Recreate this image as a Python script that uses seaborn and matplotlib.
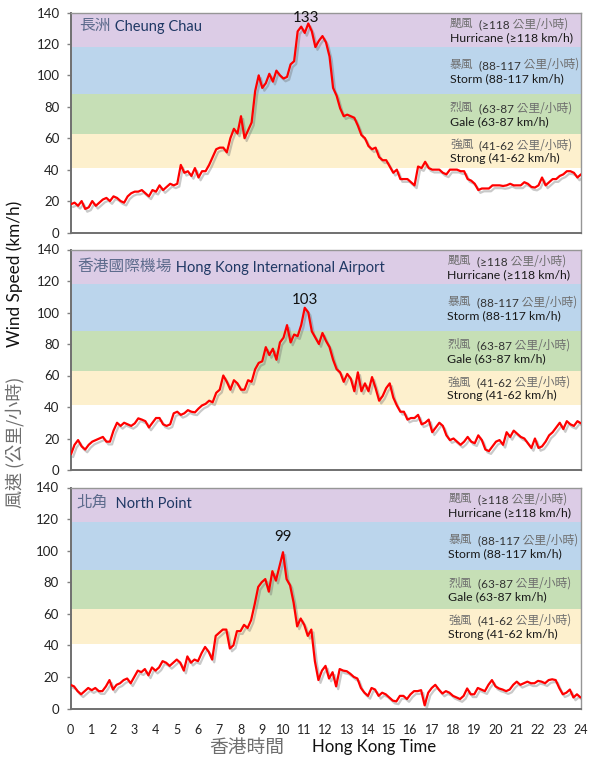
import numpy as np
import pandas as pd
import matplotlib
matplotlib.use('Agg')
import matplotlib.pyplot as plt
import matplotlib.patheffects as pe
import seaborn as sns

# 10 minute readings, 00:00 to 24:00
hours = np.arange(145) / 6

cheung_chau = [18, 19, 17, 20, 15, 16, 20, 17, 19, 21, 22, 20, 23, 22, 20, 19, 23, 25, 26, 26, 27, 25, 23, 27, 26,
               30, 27, 29, 31, 30, 31, 43, 38, 39, 36, 41, 35, 39, 39, 43, 48, 53, 54, 54, 51, 60, 66, 63, 74, 60,
               65, 70, 90, 100, 92, 95, 101, 96, 103, 100, 98, 99, 107, 109, 128, 131, 127, 133, 128, 118, 122, 125,
               121, 112, 92, 87, 79, 74, 75, 74, 73, 68, 62, 60, 55, 53, 54, 48, 46, 46, 42, 38, 40, 34, 34, 34, 32,
               30, 42, 41, 45, 41, 40, 40, 40, 38, 37, 40, 40, 40, 39, 39, 34, 33, 31, 27, 28, 28, 28, 30, 30, 30,
               29.6, 30, 31, 30, 30, 30, 32, 31, 29, 28.6, 30, 35, 30, 32, 34, 34, 36, 37, 39, 39, 38, 35, 37]
airport = [10, 16, 19, 15, 13, 16, 18, 19, 20, 21, 18, 18, 25, 30, 28, 30, 29, 28, 29.6, 32.8, 32, 31, 27, 30, 33,
           33, 29, 28, 29, 36, 37, 35, 36, 38, 37, 36.6, 39, 41, 42, 44, 43, 49, 51, 60, 56, 51, 57, 55, 51, 51,
           57, 56, 64, 68, 69, 78, 73, 77, 70, 81, 84, 92, 81, 86, 85, 92, 103, 100, 88, 84, 80, 87,
           82, 78, 70, 64, 62, 56, 61, 58, 50, 62, 50, 55, 50, 59, 52, 44, 47, 52, 55, 46, 41, 37, 37, 32, 33,
           33, 35, 29, 30, 32, 24, 27, 30, 28, 22, 19, 20, 18, 16, 18, 21, 18, 17, 22, 19, 13, 12, 15, 18, 19,
           16, 24, 21, 25, 23, 21, 20, 17, 14, 20, 14, 15, 18, 22, 24, 27, 30, 26, 31, 29, 28, 31, 29.6]
north_point = [15, 14, 11, 9, 11, 13, 11.6, 13, 11, 11, 14, 18, 12, 15, 16, 18, 19, 16, 20, 24, 23, 25, 21, 26, 24,
               26, 30, 29, 27, 29, 31, 29, 24, 33, 29, 31, 30, 35, 39, 36, 31, 46, 48, 50, 50, 38, 40, 49, 49, 53,
               51, 56, 66, 77, 80, 82, 74, 87, 81, 90, 99, 82, 78, 67, 52, 57, 53, 46, 50, 30, 18, 24,
               27, 19, 23, 14, 25, 24, 23.6, 22, 20, 19, 13, 10, 8, 13, 12, 8, 10, 9, 7, 5, 4.5, 8, 8, 6, 9,
               11, 11, 11.6, 2, 10, 13, 15, 12, 9.5, 11, 10, 8, 7, 6, 8, 12.7, 9, 9, 13, 12, 11, 15, 18, 14, 12.7,
               12, 11, 12, 15, 17, 15, 16, 17, 16, 16, 17.5, 17, 16, 18, 18.5, 18, 13, 9, 10, 12, 7, 9, 7]

stations = ['長洲', '香港國際機場', '北角']
stations_en = ['Cheung Chau', 'Hong Kong International Airport', 'North Point']
peaks = [133, 103, 99]
peak_hours = [11.08, 11.0, 10.0]

band_edges = [(118, 140), (88, 118), (63, 88), (41, 63)]
band_colors = ['#dccce6', '#bbd5ec', '#c6dfb6', '#fdf0cd']
band_zh = ['颶風', '暴風', '烈風', '強風']
band_range = ['≥118', '88-117', '63-87', '41-62']
band_en = ['Hurricane', 'Storm', 'Gale', 'Strong']

sns.set_theme(style='white')
CJK = ['Noto Sans CJK TC', 'DejaVu Sans']
LATIN = ['Lato', 'Noto Sans CJK TC', 'DejaVu Sans']
GREY = '#6e6e6e'
NAVY = '#1f3864'
plt.rcParams['font.family'] = LATIN

W, H = 604, 770
fig = plt.figure(figsize=(W / 100, H / 100), dpi=100)
boxes = [(71, 12.5, 581, 232.5), (71, 249.5, 581, 470), (70.5, 487.5, 580.5, 708.5)]
title_x = [0.017, 0.013, 0.012]
title_y = [0.939, 0.925, 0.934]
title_gap = [' ', ' ', '  ']
peak_y = [136.5, 108, 108.6]
label_x = [0.743, 0.738, 0.741]


def chain(ax, x, y, pieces):
    # consecutive bits of text, each starts where the last one ended
    prev = None
    for txt, col, fam, size in pieces:
        if prev is None:
            prev = ax.text(x, y, txt, color=col, family=fam, fontsize=size, va='center', ha='left',
                           transform=ax.transAxes)
        else:
            prev = ax.annotate(txt, xy=(1, 0), xycoords=prev, va='bottom', ha='left', color=col,
                               family=fam, fontsize=size)


for i, series in enumerate([cheung_chau, airport, north_point]):
    l, t, r, b = boxes[i]
    ax = fig.add_axes([l / W, 1 - b / H, (r - l) / W, (b - t) / H])
    for (lo, hi), c in zip(band_edges, band_colors):
        ax.axhspan(lo, hi, color=c, lw=0, zorder=0)

    df = pd.DataFrame({'hour': hours, 'speed': series})
    sns.lineplot(data=df, x='hour', y='speed', color='#ff0000', linewidth=1.6, errorbar=None, ax=ax, zorder=3)
    ax.lines[-1].set_path_effects([pe.SimpleLineShadow(offset=(1.5, -2), shadow_color='#666666', alpha=0.35),
                                   pe.Normal()])

    ax.set_xlim(0, 24)
    ax.set_ylim(0, 140)
    ax.set_yticks(range(0, 141, 20))
    ax.set_xlabel('')
    ax.set_ylabel('')
    ax.tick_params(axis='y', left=True, length=3.2, width=1, color='#808080', labelsize=9.5, pad=5,
                   labelcolor='#222222')
    if i == 2:
        ax.set_xticks(range(0, 25))
        ax.tick_params(axis='x', bottom=False, labelsize=9, pad=5, labelcolor='#222222')
    else:
        ax.set_xticks([])
    for name in ['top', 'right']:
        ax.spines[name].set_color('#969696')
        ax.spines[name].set_linewidth(1)
    for name in ['left', 'bottom']:
        ax.spines[name].set_color('#707070')
        ax.spines[name].set_linewidth(1.4)

    # station name
    chain(ax, title_x[i], title_y[i], [(stations[i], '#5d6b8c', CJK, 11.3),
                                       (title_gap[i] + stations_en[i], NAVY, LATIN, 10.5)])

    # peak value
    ax.text(peak_hours[i], peak_y[i], str(peaks[i]), ha='center', va='center', fontsize=10.8, color='#111111')

    # wind force labels on the right
    for j in range(4):
        mid = (band_edges[j][0] + band_edges[j][1]) / 2
        chain(ax, label_x[i], (mid + 3.9) / 140,
              [(band_zh[j], GREY, CJK, 8.5), ('  (' + band_range[j], '#333333', LATIN, 8.5),
               (' 公里/小時)', GREY, CJK, 8.5)])
        ax.text(label_x[i], (mid - 4.9) / 140, band_en[j] + ' (' + band_range[j] + ' km/h)', fontsize=8.8,
                color='#1a1a1a', va='center', ha='left', transform=ax.transAxes)

fig.text(15 / W, 1 - 274 / H, 'Wind Speed (km/h)', rotation=90, ha='center', va='center', fontsize=12.3, color='#111111')
fig.text(15 / W, 1 - 442 / H, '風速 (公里/小時)', rotation=90, ha='center', va='center', fontsize=13, color=GREY, family=CJK)
fig.text(247 / W, 1 - 747 / H, '香港時間', ha='center', va='center', fontsize=13.5, color=GREY, family=CJK)
fig.text(374.5 / W, 1 - 747 / H, 'Hong Kong Time', ha='center', va='center', fontsize=12.1, color='#111111')

fig.savefig('out.png', dpi=100)
